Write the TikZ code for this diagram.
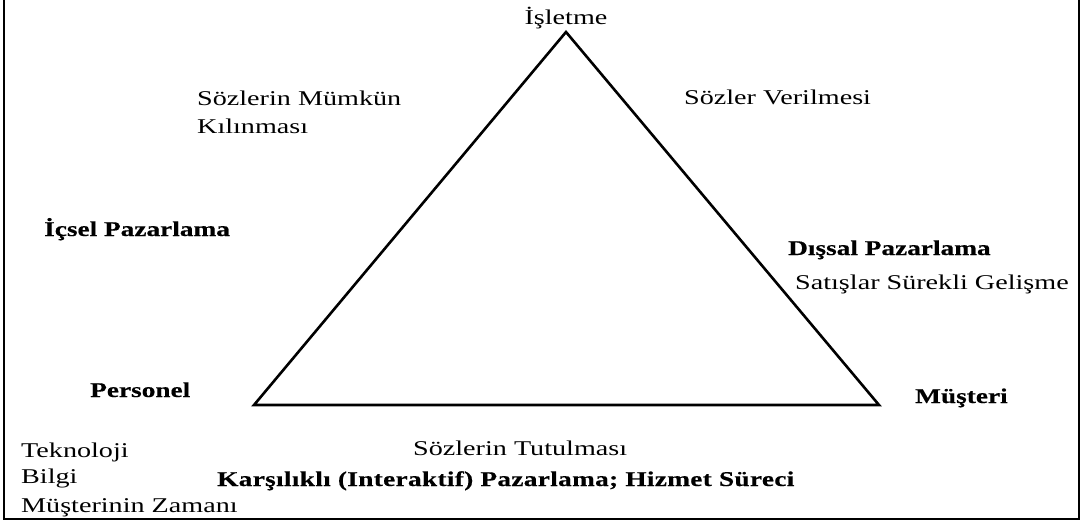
\documentclass[tikz,border=0pt]{standalone}
\usepackage{fontspec}
\setmainfont[FakeStretch=1.34]{Liberation Serif}
\newfontfamily\boldserif[FakeStretch=1.3,FakeBold=0.4]{Liberation Serif Bold}
\newfontfamily\boldspaced[FakeStretch=1.3,FakeBold=0.4,LetterSpace=1.5]{Liberation Serif Bold}
\begin{document}
\begin{tikzpicture}[x=1pt,y=-1pt,
  lbl/.style={anchor=base west,inner sep=0pt,font=\fontsize{21}{25}\selectfont},
  blbl/.style={lbl,font=\fontsize{21}{25}\selectfont\boldserif},
  side/.style={line width=2.6pt,line join=miter},
  frame/.style={line width=2.6pt}]
\useasboundingbox (0,0) rectangle (1082,522);
% outer frame: left, bottom and right edges
\coordinate (tl) at (4,0);
\coordinate (bl) at (4,519);
\coordinate (brc) at (1079,519);
\coordinate (tr) at (1079,0);
\draw[frame] (tl) -- (bl) -- (brc) -- (tr);
% triangle
\coordinate (top) at (566,32);
\coordinate (left) at (254,405);
\coordinate (right) at (879,405);
\draw[side] (top) -- (left) -- (right) -- cycle;
% labels
\node[lbl,anchor=base] (isletme) at (566,24) {İşletme};
\node[lbl] (mumkun1) at (197,105) {Sözlerin Mümkün};
\node[lbl] (mumkun2) at (197,133) {Kılınması};
\node[lbl] (verilme) at (684,104) {Sözler Verilmesi};
\node[blbl] (icsel) at (44,236) {İçsel Pazarlama};
\node[blbl] (dissal) at (788,255) {Dışsal Pazarlama};
\node[lbl] (satis) at (795,289) {Satışlar Sürekli Gelişme};
\node[blbl] (personel) at (90,397) {Personel};
\node[blbl] (musteri) at (915,403) {Müşteri};
\node[lbl] (tekno) at (21,457) {Teknoloji};
\node[lbl] (bilgi) at (21,483) {Bilgi};
\node[lbl] (zaman) at (21,512) {Müşterinin Zamanı};
\node[lbl] (tutul) at (413,455) {Sözlerin Tutulması};
\node[lbl,font=\fontsize{21}{25}\selectfont\boldspaced] (karsi) at (217,486) {Karşılıklı (Interaktif) Pazarlama; Hizmet Süreci};
\end{tikzpicture}
\end{document}
